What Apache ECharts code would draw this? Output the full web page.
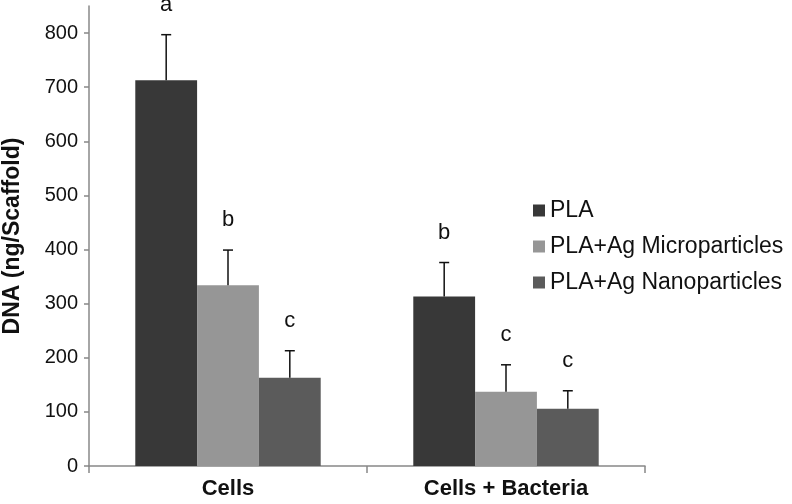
<!DOCTYPE html>
<html>
<head>
<meta charset="utf-8">
<style>
  html, body { margin: 0; padding: 0; background: #fff; }
  #main { width: 792px; height: 504px; }
</style>
</head>
<body>
<div id="main"></div>
<script src="https://cdn.jsdelivr.net/npm/echarts@6/dist/echarts.min.js"></script>
<script>
  // 数据
  var categories = ['Cells', 'Cells + Bacteria'];
  var seriesNames = ['PLA', 'PLA+Ag Microparticles', 'PLA+Ag Nanoparticles'];
  var plaVals = [713, 313];
  var microVals = [334, 137];
  var nanoVals = [163, 106];
  var plaErr = [84, 63];
  var microErr = [65, 50];
  var nanoErr = [50, 33];
  var plaLetters = ['a', 'b'];
  var microLetters = ['b', 'c'];
  var nanoLetters = ['c', 'c'];
  var yTicks = [0, 100, 200, 300, 400, 500, 600, 700, 800];

  var colors = ['#383838', '#969696', '#5b5b5b'];
  var gapRatio = 0.333;
  var font = '"Liberation Sans", Arial, sans-serif';

  // 误差线 + 字母标注
  function errSeries(name, vals, errs, letters, k) {
    return {
      name: name,
      type: 'custom',
      z: 5,
      silent: true,
      renderItem: function(params, api) {
        var cat = api.value(0);
        var top = api.coord([cat, api.value(1)]);
        var end = api.coord([cat, api.value(1) + api.value(2)]);
        var bw = api.size([1, 0])[0] * (1 - gapRatio) / 3;
        var x = top[0] + (k - 1) * bw;
        return {
          type: 'group',
          children: [
            { type: 'line', shape: { x1: x, y1: top[1], x2: x, y2: end[1] },
              style: { stroke: '#111', lineWidth: 1.5 } },
            { type: 'line', shape: { x1: x - 5, y1: end[1], x2: x + 5, y2: end[1] },
              style: { stroke: '#111', lineWidth: 1.5 } },
            { type: 'text', x: x, y: end[1] - 30,
              style: { text: letters[params.dataIndex], fill: '#111', font: '22px ' + font,
                       align: 'center', verticalAlign: 'middle' } }
          ]
        };
      },
      data: vals.map(function(v, i) { return [i, v, errs[i]]; })
    };
  }

  var myChart = echarts.init(document.getElementById('main'));

  var option = {
    animation: false,
    color: colors,
    grid: { left: 89, right: 147, top: 6, bottom: 38, containLabel: false, outerBoundsMode: 'none' },
    legend: {
      data: seriesNames,
      orient: 'vertical',
      left: 528,
      top: 194,
      itemWidth: 12,
      itemHeight: 12,
      itemGap: 13,
      icon: 'rect',
      textStyle: { fontSize: 23, color: '#111', fontFamily: font }
    },
    xAxis: {
      type: 'category',
      data: categories,
      axisLine: { lineStyle: { color: '#888', width: 1.5 } },
      axisTick: { show: true, alignWithLabel: false, length: 7, lineStyle: { color: '#888', width: 1.5 } },
      axisLabel: { fontSize: 22, fontWeight: 'bold', color: '#111', margin: 12, fontFamily: font }
    },
    yAxis: {
      type: 'value',
      min: 0,
      max: 850,
      interval: 50,
      name: 'DNA (ng/Scaffold)',
      nameLocation: 'middle',
      nameGap: 65,
      nameTextStyle: { fontSize: 23, fontWeight: 'bold', color: '#111', fontFamily: font },
      splitLine: { show: false },
      axisLine: { show: true, lineStyle: { color: '#888', width: 1.5 } },
      axisTick: { show: true, length: 5, customValues: yTicks, lineStyle: { color: '#888', width: 1.5 } },
      axisLabel: { customValues: yTicks, fontSize: 20, color: '#111', margin: 11, fontFamily: font }
    },
    series: [
      { name: seriesNames[0], type: 'bar', data: plaVals, barGap: '0%', barCategoryGap: '33.3%' },
      { name: seriesNames[1], type: 'bar', data: microVals, barGap: '0%', barCategoryGap: '33.3%' },
      { name: seriesNames[2], type: 'bar', data: nanoVals, barGap: '0%', barCategoryGap: '33.3%' },
      errSeries('e0', plaVals, plaErr, plaLetters, 0),
      errSeries('e1', microVals, microErr, microLetters, 1),
      errSeries('e2', nanoVals, nanoErr, nanoLetters, 2)
    ]
  };

  myChart.setOption(option);
</script>
</body>
</html>
